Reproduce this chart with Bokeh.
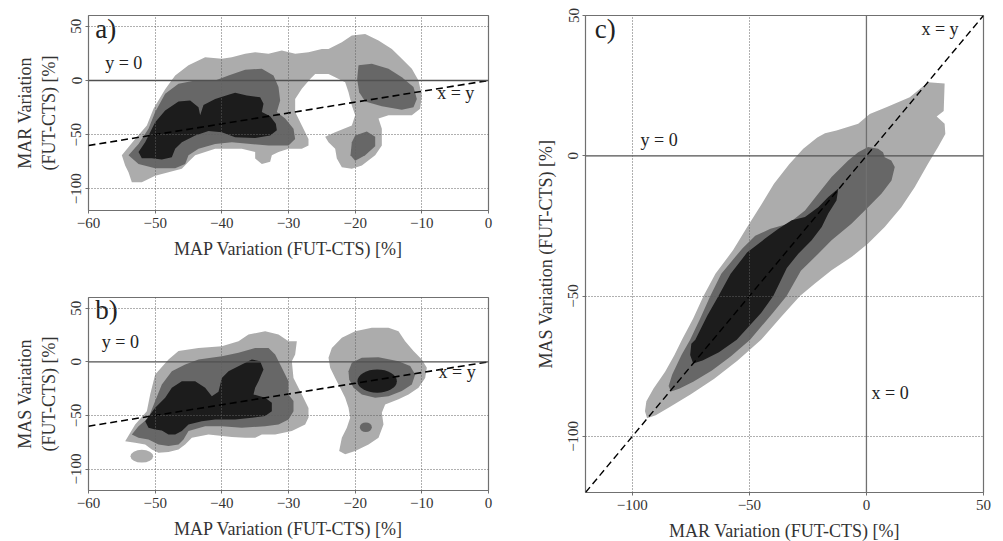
from bokeh.plotting import figure
from bokeh.layouts import row, column
from bokeh.models import Span, Label, FixedTicker, Range1d
from bokeh.embed import file_html
from bokeh.resources import INLINE

# ---------------- data ----------------
# Panel a: MAP variation (x) vs MAR variation (y), density regions
a_light_x = [-55, -53, -51.25, -50.25, -48.5, -47, -45, -42.5, -40, -38.5, -36.5, -35, -33, -31, -29, -27, -25, -24,
             -22, -20.5, -18.5, -16.5, -14.5, -13, -11.5, -10.5, -10, -10.25, -11.5, -15, -16.5, -16, -16, -17, -19,
             -20.5, -22, -22.75, -23, -24, -24.5, -23, -20.5, -20, -20.5, -21, -21.5, -23, -24, -26, -26.75, -28, -29,
             -29, -28, -27, -27, -28, -30, -31.5, -32.5, -32.75, -34, -35, -35, -37, -41, -44, -45, -46, -48, -50, -51,
             -52, -53.5, -54, -54.5]
a_light_y = [-69, -54, -41.5, -26, -8, 4.6, 14, 21.5, 20, 21.5, 24.6, 26, 24.6, 27.7, 24.6, 26, 29, 29,
             35.4, 41.5, 43, 37, 29, 20, 10.8, 0, -14, -26, -32, -32, -35, -44.6, -60, -69, -78.5,
             -81.5, -80, -72, -63, -57, -52, -47.7, -41.5, -32, -23, -10.8, -1.5, 3, 6, 6, 1.5, -7.7, -17,
             -29, -41.5, -54, -60, -63, -63, -66, -69, -75, -77, -72, -66, -63, -63, -69, -75, -81.5, -84.6, -88, -91,
             -94, -94, -84.6, -78.5]
a_mid_x = [[-54, -52.5, -51, -50, -48.5, -46.5, -44, -41, -39, -36.5, -34, -32.25, -31.5, -31.25, -31.75, -30.5, -29.25,
            -29, -30, -33, -38.5, -41, -43.5, -45, -45.5, -47, -50, -52.5],
           [-19.5, -17.5, -15, -13, -11.25, -10.75, -11.25, -13, -16, -18.5, -19.4, -19.7],
           [-20, -18.25, -17, -17, -18.5, -20, -20.7, -20.5]]
a_mid_y = [[-69, -58.5, -44.6, -29, -12.3, -3, 0, 0, 4.6, 10, 10.8, 4.6, -6, -18.5, -29, -35, -44.6,
            -54, -60, -60, -57, -58.5, -63, -69, -77, -81, -81, -77],
           [14, 15.4, 10.8, 3, -6, -17, -24.6, -27, -23.7, -19.4, -10.8, 1.5],
           [-50.8, -47, -52, -60.6, -69, -74, -69, -57]]
a_dark_x = [-52.5, -51.5, -50, -48.5, -46.5, -44.75, -43.5, -43.25, -42.75, -41, -39, -38, -36.25, -34.25, -33.75, -34,
            -32.75, -31.9, -31.75, -32.75, -35, -38, -40, -42, -44, -46, -47, -47.5, -49, -50.5, -52]
a_dark_y = [-66, -57, -38.5, -27.7, -19.4, -18.5, -24.6, -32, -22.5, -17, -13.2, -11.4, -13.8, -15.4, -21.5, -29,
            -33, -40, -46, -50.8, -53, -52.3, -47.7, -46.5, -50.8, -57, -63, -70.8, -73, -71.7, -71.7]

# Panel b: MAP variation (x) vs MAS variation (y)
b_light_x = [[-54.5, -53, -51.25, -50.75, -50, -48, -46.5, -43.5, -40, -37.5, -36, -33.5, -31.5, -30, -28.75, -29, -29.5,
              -29.25, -28, -27, -27, -27.5, -29.5, -32, -34, -35, -36.5, -38.5, -42, -44.5, -45.5, -46.5, -48, -49.5,
              -50.5, -51.5, -53],
             [-24, -23.5, -22, -20, -17.5, -15, -13.5, -12.5, -11.25, -10, -9.25, -9.5, -10.5, -12, -13.5, -15.5, -16,
              -15.75, -16.5, -18, -20, -21.5, -22.4, -22, -21.25, -20.75, -21, -21.5, -22.25, -23, -23.75]]
b_light_y = [[-74, -58.4, -46, -30.4, -11.8, 2.2, 10, 13, 14.6, 19.3, 25.5, 28.6, 25.5, 19.3, 19.3, 6.8, 0.6,
              -15, -30.4, -43, -52, -58.4, -64.6, -67.7, -67.7, -70.8, -70.8, -70, -67.7, -70.8, -77, -81.7, -84, -84.8,
              -81.7, -77, -75.5],
             [3.7, 13, 22.4, 28.6, 31.7, 31.7, 28.6, 19.3, 10, 2.2, -5.6, -15, -24.2, -30.4, -35, -39.8, -47.5,
              -58.4, -70.8, -77, -83.2, -86.3, -83.2, -70.8, -61.5, -52.2, -42.9, -33.5, -24.2, -15, -5.6]]
b_mid_x = [[-53.5, -52.5, -51, -50, -49, -47.5, -45.5, -43.5, -40, -37.5, -35, -33, -32, -31, -30, -30, -29.25, -29.25,
            -30, -31.5, -33.5, -37, -40, -42.5, -45, -45.75, -46.5, -48, -49.5, -51, -52.5],
           [-21, -20.5, -19, -16.5, -13.5, -11.75, -11, -11.5, -13, -15, -17, -19, -20.25, -20.9]]
b_mid_y = [[-67.7, -60, -52.2, -36.6, -21.1, -8.7, -2.5, 2.2, 5.3, 8.4, 13, 13, 6.8, -5.6, -18, -30.4, -36.6, -46,
            -53.7, -58.4, -60, -61.5, -60, -60, -64.6, -72.4, -77, -78.6, -77, -72.4, -70.8],
           [-8.7, -0.9, 3.7, 4.3, 0.6, -4, -11.8, -21.1, -27.3, -32, -33.5, -30.4, -24.2, -16.5]]
b_dark_x = [-51.5, -50, -48.5, -47.5, -46, -44, -42.5, -41.5, -40.5, -40, -39, -37, -35.5, -34.25, -33.75, -34.5, -35,
            -35.25, -33.5, -32.5, -32.5, -33.5, -35.5, -38, -41, -43, -45, -46, -47, -48, -49, -50, -51]
b_dark_y = [-55.3, -42.9, -33.5, -24.2, -18, -18, -24.2, -32, -28, -15, -8.7, -2.5, 2.2, 0.6, -7.1, -18, -24.2,
            -30.4, -33.5, -38.2, -46, -50.6, -52.2, -53.7, -53.7, -55.3, -58.4, -64.6, -67.7, -67.7, -64, -63, -61.5]
# small elliptical blobs in panel b: centre x, centre y, width, height
b_light_blob = dict(x=[-52.0], y=[-88.0], w=[3.4], h=[12.0])
b_mid_blob = dict(x=[-18.4], y=[-61.0], w=[1.8], h=[9.0])
b_dark_blob = dict(x=[-16.7], y=[-18.0], w=[5.9], h=[21.5])

# Panel c: MAR variation (x) vs MAS variation (y)
c_light_x = [33.4, 33, 30, 33.4, 33.7, 30.6, 26.3, 20.6, 14.9, 7.8, 0.7, -6.4, -14.9, -22, -28.4, -36, -45, -55, -65,
             -75, -84, -90, -93.7, -94.6, -94, -91, -86, -82, -78.8, -74, -69.6, -64.5, -57, -51, -45, -39.5, -33,
             -27, -21, -17.7, -12.8, -3.5, 1.4, 8.5, 18.5, 26.3]
c_light_y = [25.8, 16, 14, 11.4, 7.8, 3.1, -2.8, -11.2, -18.3, -25.4, -31.3, -36.1, -40.8, -45.5, -50, -57, -65.6, -73,
             -79.5, -85, -89.5, -92.5, -93.5, -91, -87.5, -83, -77, -71, -65.6, -58, -50, -42, -33.7, -25.5, -17.5,
             -10, -3, 2.5, 6.5, 8, 9, 11.4, 14.9, 17.3, 20.9, 26.2]
c_mid_x = [0.7, 5, 7.1, 7.8, 10.6, 12.1, 10.7, 6.4, 0.7, -6.4, -14.9, -22, -28, -34.1, -40, -49.7, -58, -66, -74, -80,
           -83.5, -84.5, -83, -79, -75.3, -71, -66.7, -62, -53, -47.5, -41, -33.4, -26.25, -20.6, -14.9, -7.8, -3.5]
c_mid_y = [3.1, 2.5, 1.3, -0.5, -1.7, -4, -8.8, -13.5, -18.3, -24.2, -30.1, -36.1, -41, -50, -56, -65.6, -71.5, -76.5,
           -80.5, -83, -84, -82, -78, -71, -65.6, -58, -50, -42, -33, -28.5, -26, -24.2, -19.5, -13.5, -7.6, -1.7, 1.3]
c_dark_x = [-12, -12.8, -16.3, -19.1, -23.4, -29.1, -34, -39.8, -45, -55.4, -63, -70, -74, -75.3, -74.8, -73.1, -68,
            -63.2, -58, -51, -43.3, -37.6, -31.9, -26.25, -20.6, -16.3]
c_dark_y = [-11.7, -15.9, -20.6, -25.4, -30.1, -34.9, -40, -50, -56, -65.6, -70, -73, -74, -71, -67, -65.6, -57,
            -50, -42, -34.5, -29.5, -26, -23, -21.8, -18.3, -14.7]

# axes / reference lines
ab_xrange = (-60, 0)
ab_yrange = (-120, 60)
ab_xticks = [-60, -50, -40, -30, -20, -10, 0]
ab_yticks = [-100, -50, 0, 50]
ab_xgrid = [-50, -40, -30, -20, -10]
ab_ygrid = [-100, -50, 50]
ab_diag = [-60, 0]
c_xrange = (-120, 50)
c_yrange = (-120, 50)
c_ticks = [-100, -50, 0, 50]
c_grid = [-100, -50]
c_diag = [-120, 50]

LIGHT = "#acacac"
MID = "#676767"
DARK = "#1c1c1c"
SERIF = "Liberation Serif"


def base_fig(xr, yr, fw, fh, bl, br, bt, bb, xticks, yticks, xgrid, ygrid, xlabel, ylabel):
    p = figure(frame_width=fw, frame_height=fh, min_border_left=bl, min_border_right=br,
               min_border_top=bt, min_border_bottom=bb, x_range=Range1d(*xr), y_range=Range1d(*yr),
               output_backend="svg", toolbar_location=None, background_fill_color="white",
               border_fill_color="white", outline_line_color="#707070", outline_line_width=1.2)
    for ax, ticks in ((p.xaxis, xticks), (p.yaxis, yticks)):
        ax.ticker = FixedTicker(ticks=ticks)
        ax.axis_line_color = None
        ax.major_tick_line_color = "#707070"
        ax.major_tick_in = 0
        ax.major_tick_out = 3
        ax.minor_tick_line_color = None
        ax.major_label_text_font = SERIF
        ax.major_label_text_font_size = "15px"
        ax.major_label_text_color = "#333333"
        ax.axis_label_text_font = SERIF
        ax.axis_label_text_font_size = "18px"
        ax.axis_label_text_font_style = "normal"
        ax.axis_label_text_color = "#333333"
    p.xaxis.axis_label = xlabel
    p.yaxis.axis_label = ylabel
    p.yaxis.major_label_orientation = "vertical"
    p.xaxis.major_label_standoff = 4
    p.yaxis.major_label_standoff = 4
    p.xaxis.axis_label_standoff = 8
    p.yaxis.axis_label_standoff = 10
    p.xgrid.ticker = FixedTicker(ticks=xgrid)
    p.ygrid.ticker = FixedTicker(ticks=ygrid)
    for g in (p.xgrid, p.ygrid):
        g.grid_line_color = "#606060"
        g.grid_line_dash = "1 2"
        g.grid_line_width = 1
        g.level = "overlay"
    return p


def label(p, x, y, text, size="18px"):
    p.add_layout(Label(x=x, y=y, text=text, text_font=SERIF, text_font_size=size, text_color="#222222"))


# ---------------- panel a ----------------
pa = base_fig(ab_xrange, ab_yrange, 400, 195, 88, 12, 15, 60, ab_xticks, ab_yticks, ab_xgrid, ab_ygrid,
              "MAP Variation (FUT-CTS) [%]", "MAR Variation\n(FUT-CTS) [%]")
pa.patch(a_light_x, a_light_y, fill_color=LIGHT, line_color=None)
pa.patches(a_mid_x, a_mid_y, fill_color=MID, line_color=None)
pa.patch(a_dark_x, a_dark_y, fill_color=DARK, line_color=None)
pa.add_layout(Span(location=0, dimension="width", line_color="#505050", line_width=1.3))
pa.line(ab_diag, ab_diag, line_color="black", line_width=1.6, line_dash="7 4")
label(pa, -59.0, 34, "a)", "27px")
label(pa, -57.5, 7, "y = 0")
label(pa, -7.7, -21, "x = y")

# ---------------- panel b ----------------
pb = base_fig(ab_xrange, ab_yrange, 400, 193, 88, 12, 27, 51, ab_xticks, ab_yticks, ab_xgrid, ab_ygrid,
              "MAP Variation (FUT-CTS) [%]", "MAS Variation\n(FUT-CTS) [%]")
pb.patches(b_light_x, b_light_y, fill_color=LIGHT, line_color=None)
pb.ellipse(x=b_light_blob["x"], y=b_light_blob["y"], width=b_light_blob["w"], height=b_light_blob["h"],
           fill_color=LIGHT, line_color=None)
pb.patches(b_mid_x, b_mid_y, fill_color=MID, line_color=None)
pb.ellipse(x=b_mid_blob["x"], y=b_mid_blob["y"], width=b_mid_blob["w"], height=b_mid_blob["h"],
           fill_color=MID, line_color=None)
pb.patch(b_dark_x, b_dark_y, fill_color=DARK, line_color=None)
pb.ellipse(x=b_dark_blob["x"], y=b_dark_blob["y"], width=b_dark_blob["w"], height=b_dark_blob["h"],
           fill_color=DARK, line_color=None)
pb.add_layout(Span(location=0, dimension="width", line_color="#505050", line_width=1.3))
pb.line(ab_diag, ab_diag, line_color="black", line_width=1.6, line_dash="7 4")
label(pb, -59.0, 34, "b)", "27px")
label(pb, -58.0, 9, "y = 0")
label(pb, -7.5, -19, "x = y")

# ---------------- panel c ----------------
pc = base_fig(c_xrange, c_yrange, 398, 477, 85, 20, 15, 49, c_ticks, c_ticks, c_grid, c_grid,
              "MAR Variation (FUT-CTS) [%]", "MAS Variation (FUT-CTS) [%]")
pc.patch(c_light_x, c_light_y, fill_color=LIGHT, line_color=None)
pc.patch(c_mid_x, c_mid_y, fill_color=MID, line_color=None)
pc.patch(c_dark_x, c_dark_y, fill_color=DARK, line_color=None)
pc.add_layout(Span(location=0, dimension="width", line_color="#505050", line_width=1.3))
pc.add_layout(Span(location=0, dimension="height", line_color="#707070", line_width=1.3))
pc.line(c_diag, c_diag, line_color="black", line_width=1.4, line_dash="7 4")
label(pc, -116, 40, "c)", "27px")
label(pc, -96.5, 2, "y = 0")
label(pc, 23.5, 41.5, "x = y")
label(pc, 2.2, -88, "x = 0")

layout = row(column(pa, pb), pc)
open("out.html", "w").write(file_html(layout, INLINE))
